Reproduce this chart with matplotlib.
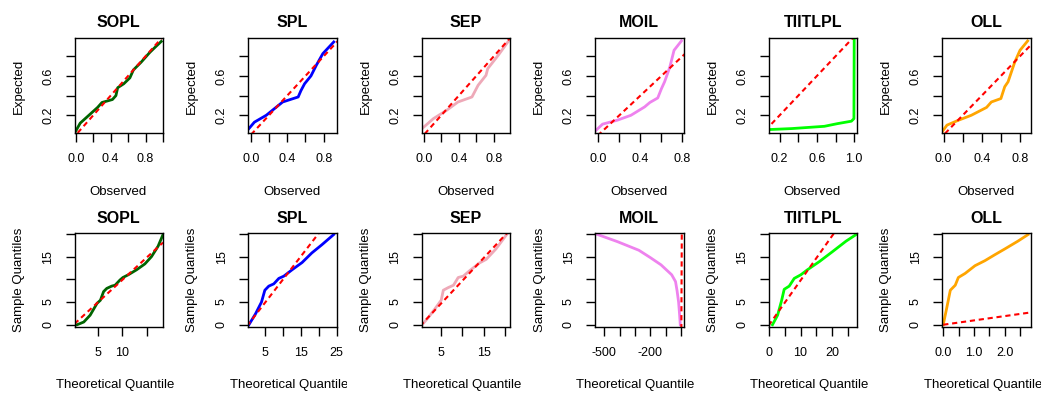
import matplotlib
matplotlib.use("Agg")
import matplotlib.pyplot as plt
from matplotlib.transforms import Bbox, TransformedBbox

plt.rcParams["font.family"] = ["Liberation Sans", "DejaVu Sans"]

names = ["SOPL", "SPL", "SEP", "MOIL", "TIITLPL", "OLL"]
colors = ["#006400", "#0000ff", "#eea9b8", "#ee82ee", "#00ff00", "#ffa500"]

# top row: observed vs expected
obs_sopl = [0.0, 0.05, 0.15, 0.25, 0.30, 0.42, 0.46, 0.48, 0.55, 0.62, 0.64, 0.66, 0.75, 0.85, 0.92, 0.98]
exp_sopl = [0.04, 0.12, 0.20, 0.28, 0.33, 0.36, 0.40, 0.48, 0.52, 0.58, 0.62, 0.66, 0.74, 0.84, 0.90, 0.95]
obs_spl = [-0.02, 0.04, 0.17, 0.35, 0.52, 0.55, 0.59, 0.66, 0.72, 0.79, 0.91]
exp_spl = [0.065, 0.13, 0.20, 0.335, 0.386, 0.45, 0.52, 0.60, 0.71, 0.826, 0.945]
obs_sep = [-0.02, 0.11, 0.26, 0.39, 0.55, 0.58, 0.62, 0.71, 0.73, 0.85, 0.98]
exp_sep = [0.065, 0.166, 0.25, 0.335, 0.386, 0.437, 0.505, 0.606, 0.674, 0.81, 0.97]
obs_moil = [-0.02, 0.04, 0.18, 0.31, 0.44, 0.49, 0.565, 0.60, 0.63, 0.68, 0.72, 0.79]
exp_moil = [0.05, 0.11, 0.15, 0.20, 0.285, 0.33, 0.376, 0.47, 0.54, 0.69, 0.86, 0.955]
obs_tiit = [0.088, 0.33, 0.68, 0.82, 0.97, 0.997, 1.0]
exp_tiit = [0.055, 0.065, 0.088, 0.115, 0.14, 0.166, 0.97]
obs_oll = [-0.017, 0.035, 0.156, 0.29, 0.45, 0.50, 0.60, 0.64, 0.675, 0.745, 0.80, 0.88]
exp_oll = [0.03, 0.10, 0.15, 0.20, 0.28, 0.335, 0.37, 0.49, 0.54, 0.74, 0.86, 0.955]
top_x = [obs_sopl, obs_spl, obs_sep, obs_moil, obs_tiit, obs_oll]
top_y = [exp_sopl, exp_spl, exp_sep, exp_moil, exp_tiit, exp_oll]
top_xlim = [(-0.015, 0.995), (-0.03, 0.94), (-0.026, 0.984), (-0.032, 0.81), (0.08, 1.03), (-0.017, 0.91)]
top_xticks = [[0, 0.2, 0.4, 0.6, 0.8, 1.0], [0, 0.2, 0.4, 0.6, 0.8], [0, 0.2, 0.4, 0.6, 0.8],
              [0, 0.2, 0.4, 0.6, 0.8], [0.2, 0.4, 0.6, 0.8, 1.0], [0, 0.2, 0.4, 0.6, 0.8]]
top_xlabels = [["0.0", "", "0.4", "", "0.8", ""], ["0.0", "", "0.4", "", "0.8"], ["0.0", "", "0.4", "", "0.8"],
               ["0.0", "", "0.4", "", "0.8"], ["0.2", "", "0.6", "", "1.0"], ["0.0", "", "0.4", "", "0.8"]]

# bottom row: theoretical vs sample quantiles
th_sopl = [0.74, 2.1, 3.4, 4.8, 5.5, 6.15, 6.8, 7.8, 8.5, 9.5, 10.1, 11.2, 12.9, 14.6, 15.95, 17.3, 18.3]
sq_sopl = [0.0, 0.6, 2.1, 4.7, 5.4, 7.3, 8.0, 8.5, 8.7, 9.85, 10.4, 11.0, 12.1, 13.4, 15.0, 17.3, 19.85]
th_spl = [0.55, 2.4, 4.07, 5.0, 6.1, 7.5, 8.9, 10.3, 12.6, 15.4, 18.1, 20.9, 24.2]
sq_spl = [0.0, 2.4, 5.0, 7.6, 8.5, 9.0, 10.2, 10.7, 12.1, 13.7, 15.8, 17.6, 19.85]
th_sep = [0.52, 2.06, 3.6, 5.0, 5.5, 6.7, 7.9, 9.0, 10.2, 11.7, 14.0, 15.6, 17.9, 21.0]
sq_sep = [0.0, 1.7, 3.6, 5.4, 7.6, 8.2, 8.7, 10.4, 10.7, 11.9, 13.6, 14.4, 16.7, 20.6]
th_moil = [-554, -414, -274, -200, -130, -60, -35, -25, -15, -8, -4]
sq_moil = [20.0, 18.3, 16.4, 14.8, 13.2, 11.0, 9.5, 7.5, 5.0, 2.0, 0.0]
th_tiit = [1.07, 2.7, 4.0, 4.8, 6.4, 8.0, 10.1, 12.2, 16.0, 20.2, 24.5, 27.7]
sq_tiit = [0.0, 2.1, 5.4, 7.8, 8.5, 10.2, 11.0, 12.1, 13.9, 16.1, 18.4, 19.85]
th_oll = [0.0, 0.12, 0.23, 0.39, 0.49, 0.71, 1.03, 1.35, 1.67, 2.0, 2.42, 2.75]
sq_oll = [0.0, 3.9, 7.6, 8.7, 10.4, 11.3, 13.0, 14.1, 15.4, 16.7, 18.4, 19.85]
bot_x = [th_sopl, th_spl, th_sep, th_moil, th_tiit, th_oll]
bot_y = [sq_sopl, sq_spl, sq_sep, sq_moil, sq_tiit, sq_oll]
# reference (qqline) end points
ref_x = [[0.2, 18.3], [0, 25], [0, 21.2], [3, 6], [-0.2, 28], [0, 2.83]]
ref_y = [[0.2, 18.1], [-0.3, 25.2], [-0.3, 20.9], [-1, 21], [-0.2, 27.3], [0, 2.7]]
bot_xlim = [(0.2, 18.3), (0.3, 25.0), (0.36, 21.2), (-560, 17), (-0.2, 28), (-0.04, 2.83)]
bot_xticks = [[5, 10, 15], [5, 10, 15, 20, 25], [5, 10, 15, 20], [-500, -400, -300, -200, -100, 0],
              [0, 5, 10, 15, 20, 25], [0, 0.5, 1.0, 1.5, 2.0, 2.5]]
bot_xlabels = [["5", "10", ""], ["5", "", "15", "", "25"], ["5", "", "15", ""],
               ["-500", "", "", "-200", "", ""], ["0", "", "10", "", "20", ""],
               ["0.0", "", "1.0", "", "2.0", ""]]

W, H = 1041, 396
fig = plt.figure(figsize=(W / 100, H / 100), dpi=100)
col_w = W / 6
red_dash = (0, (2.5, 1.8))


def style(ax):
    for s in ax.spines.values():
        s.set_linewidth(1.0)
    ax.tick_params(direction="out", length=6.5, width=1.0, labelsize=9)
    ax.tick_params(axis="x", pad=8)
    ax.tick_params(axis="y", pad=8, labelrotation=90)
    for lab in ax.get_yticklabels():
        lab.set_va("center")


def clipped_text(i, x, y, s, **kw):
    t = fig.text(x / W, 1 - y / H, s, ha="center", va="center", fontsize=9.5, **kw)
    t.set_clip_box(TransformedBbox(Bbox([[i * col_w / W, 0], [(i + 1) * col_w / W, 1]]), fig.transFigure))
    t.set_clip_on(True)
    return t


for i in range(6):
    x0 = i * col_w + 74.5
    # top row
    ax = fig.add_axes([x0 / W, 1 - 133 / H, 88.5 / W, 95 / H])
    ax.plot(top_x[i], top_y[i], color=colors[i], lw=2.0, solid_joinstyle="round")
    lo, hi = top_xlim[i]
    ax.plot([lo - 0.1, hi + 0.1], [lo - 0.1, hi + 0.1], color="red", lw=1.5, linestyle=red_dash)
    ax.set_xlim(top_xlim[i])
    ax.set_ylim(0.02, 0.985)
    ax.set_xticks(top_xticks[i])
    ax.set_xticklabels(top_xlabels[i])
    ax.set_yticks([0.2, 0.4, 0.6, 0.8])
    ax.set_yticklabels(["0.2", "", "0.6", ""])
    ax.set_title(names[i], fontsize=11.5, fontweight="bold", pad=8)
    style(ax)
    clipped_text(i, x0 + 44, 192, "Observed")
    clipped_text(i, i * col_w + 18.5, 86, "Expected", rotation=90)

    # bottom row
    ax = fig.add_axes([x0 / W, 1 - 327 / H, 88.5 / W, 94 / H])
    ax.plot(bot_x[i], bot_y[i], color=colors[i], lw=2.0, solid_joinstyle="round")
    ax.plot(ref_x[i], ref_y[i], color="red", lw=1.5, linestyle=red_dash)
    ax.set_xlim(bot_xlim[i])
    ax.set_ylim(-0.5, 20.2)
    ax.set_xticks(bot_xticks[i])
    ax.set_xticklabels(bot_xlabels[i])
    ax.set_yticks([0, 5, 10, 15, 20])
    ax.set_yticklabels(["0", "5", "", "15", ""])
    ax.set_title(names[i], fontsize=11.5, fontweight="bold", pad=7.5)
    style(ax)
    clipped_text(i, x0 + 44, 385, "Theoretical Quantiles")
    clipped_text(i, i * col_w + 19, 280, "Sample Quantiles", rotation=90)

fig.savefig("out.png", dpi=100)
